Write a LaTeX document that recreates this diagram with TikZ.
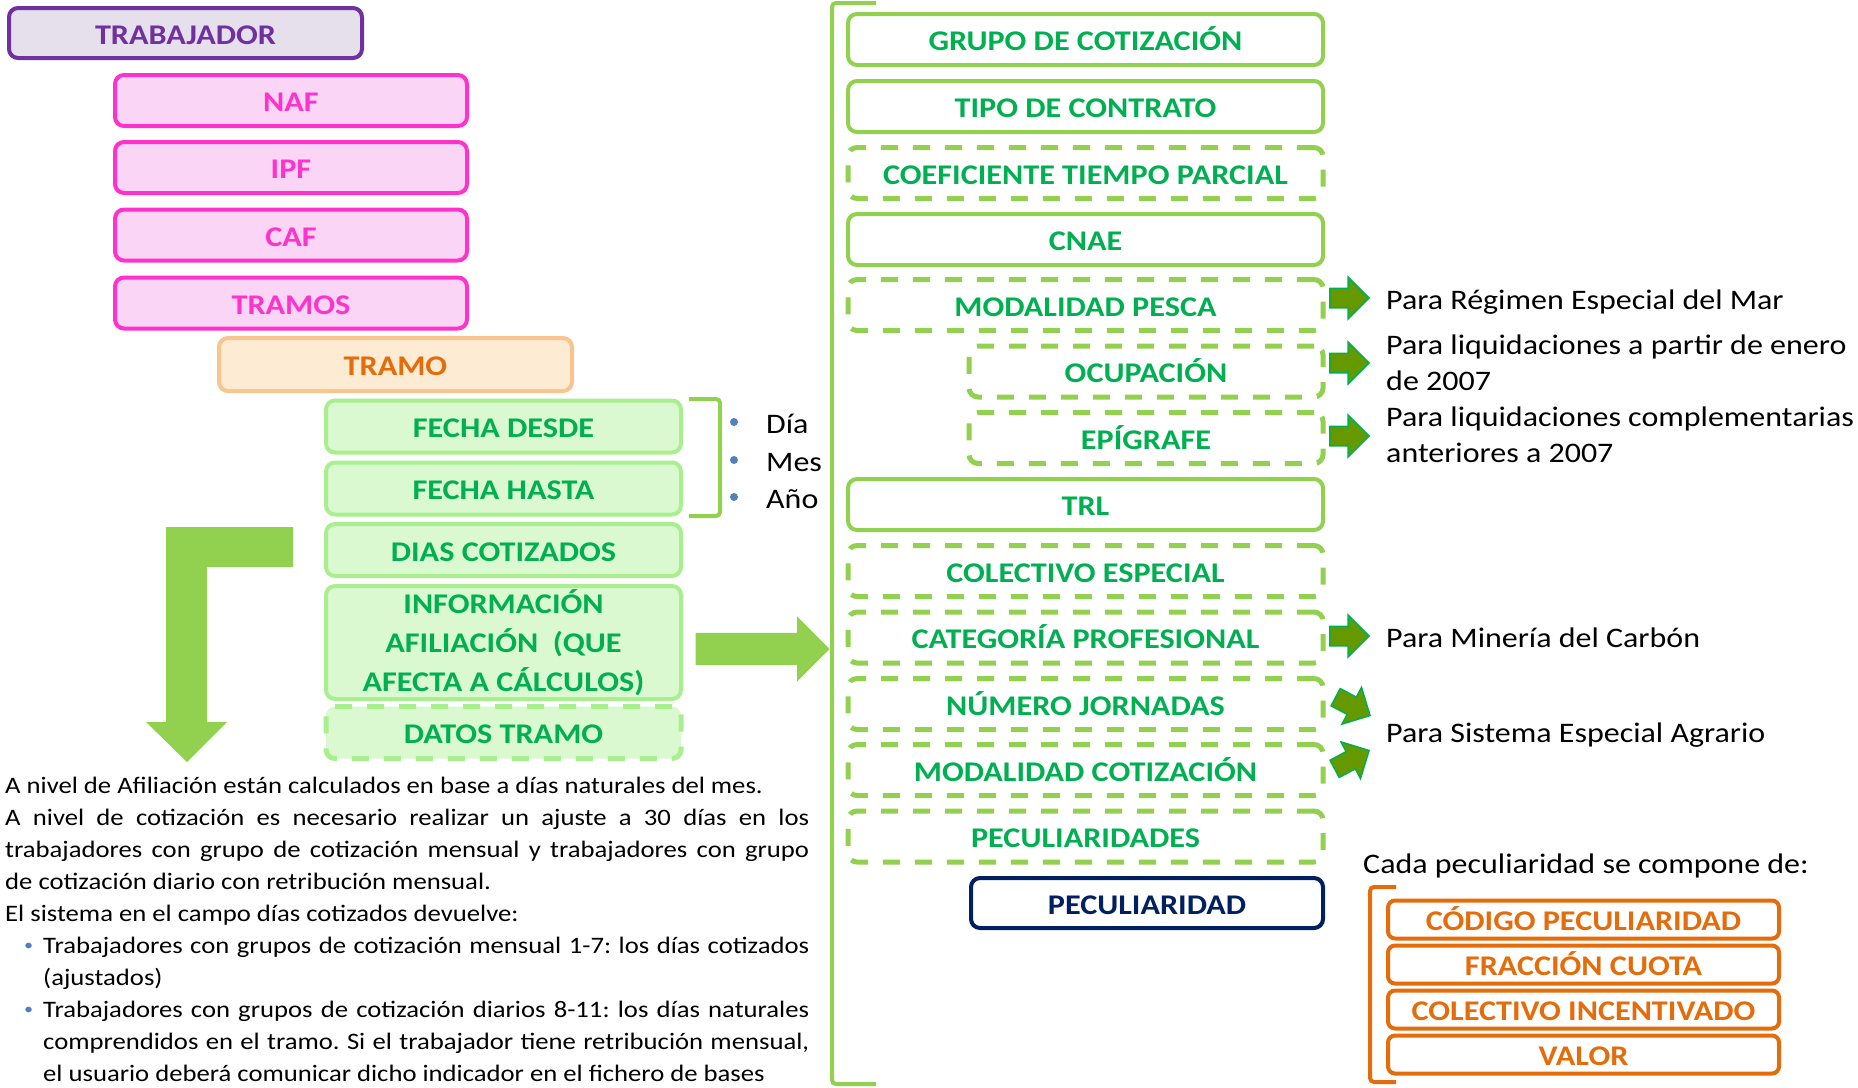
\documentclass[tikz,border=0pt]{standalone}
\usepackage{fontspec}
\setmainfont[FakeStretch=1.13]{Carlito}
\usetikzlibrary{shapes.arrows}
\frenchspacing
\definecolor{purp}{HTML}{7030A0}
\definecolor{purpfill}{HTML}{E6E0EC}
\definecolor{pink}{HTML}{FF33CC}
\definecolor{pinkfill}{HTML}{FBD5F5}
\definecolor{tramobd}{HTML}{FAC48E}
\definecolor{tramofill}{HTML}{FDEBD3}
\definecolor{orng}{HTML}{E46C0A}
\definecolor{lgbd}{HTML}{A9EF8F}
\definecolor{lgfill}{HTML}{DBF9D0}
\definecolor{grn}{HTML}{92D050}
\definecolor{txtgreen}{HTML}{00B050}
\definecolor{navy}{HTML}{002060}
\definecolor{olive}{HTML}{669900}
\definecolor{bulletc}{HTML}{4F81BD}
\tikzset{
  bx/.style={rectangle, rounded corners=9pt, line width=4pt, inner sep=0pt, align=center,
    font=\fontsize{28.5}{39}\selectfont\bfseries, text height=22pt, text depth=0pt},
  purpbox/.style={bx, draw=purp, fill=purpfill, text=purp, minimum width=353, minimum height=50},
  pinkbox/.style={bx, draw=pink, fill=pinkfill, text=pink, minimum width=352, minimum height=51},
  tramobox/.style={bx, draw=tramobd, fill=tramofill, text=orng, minimum width=353, minimum height=53},
  lgbox/.style={bx, draw=lgbd, fill=lgfill, text=txtgreen, minimum width=355, minimum height=52},
  rgbox/.style={bx, draw=grn, fill=white, text=txtgreen, minimum width=475, minimum height=51},
  dsh/.style={dash pattern=on 17pt off 15pt, line width=5pt},
  navybox/.style={bx, draw=navy, fill=white, text=navy, minimum width=352, minimum height=50},
  orbox/.style={bx, rounded corners=7pt, draw=orng, fill=white, text=orng, minimum width=391, minimum height=38},
  smarrow/.style={single arrow, draw=txtgreen, fill=olive, line width=1.5pt, inner sep=0pt, anchor=tip,
    text height=18pt, text depth=0pt, minimum height=39, minimum width=41, single arrow head extend=11pt},
  lbl/.style={anchor=base west, inner sep=0pt, font=\fontsize{28.3}{36}\selectfont},
  par/.style={anchor=base west, inner sep=0pt, font=\fontsize{23.6}{32}\selectfont},
  brk/.style={draw=grn, line width=4pt, rounded corners=4pt},
}
\begin{document}
\begin{tikzpicture}[x=1pt,y=-1pt]
\useasboundingbox (0,0) rectangle (1858,1087);
% left column
\node[purpbox] (trab) at (185.5,33) {TRABAJADOR};
\node[pinkbox] (naf) at (291,100.5) {NAF};
\node[pinkbox] (ipf) at (291,167.5) {IPF};
\node[pinkbox] (caf) at (291,235) {CAF};
\node[pinkbox] (tramos) at (291,303) {TRAMOS};
\node[tramobox] (tramo) at (395.5,364.5) {TRAMO};
\node[lgbox] (fdesde) at (503.5,426.5) {FECHA DESDE};
\node[lgbox] (fhasta) at (503.5,488.5) {FECHA HASTA};
\node[lgbox] (dias) at (503.5,550) {DIAS COTIZADOS};
\node[lgbox, minimum height=113, text height=, text depth=] (info) at (503.5,642.5) {INFORMACIÓN\\AFILIACIÓN~~(QUE\\AFECTA A CÁLCULOS)};
\node[lgbox, dsh, draw=lgbd] (datos) at (503.5,732.5) {DATOS TRAMO};
% small bracket + bullets
\coordinate (bk1) at (689,399);
\coordinate (bk2) at (689,516);
\draw[brk] (bk1) -- (720,399) -- (720,516) -- (bk2);
\fill[bulletc] (734,422) circle (4);
\fill[bulletc] (734,460) circle (4);
\fill[bulletc] (734,497) circle (4);
\node[lbl] (dia) at (766,433) {Día};
\node[lbl] (mes) at (766,471) {Mes};
\node[lbl] (anio) at (766,508) {Año};
% L arrow
\fill[grn] (166,527) -- (293,527) -- (293,567) -- (207,567) -- (207,722) -- (227,722) -- (187,762) -- (146,722) -- (166,722) -- cycle;
% big right arrow
\node[single arrow, fill=grn, inner sep=0pt, anchor=tip, text height=32pt, text depth=0pt, minimum height=134, minimum width=65, single arrow head extend=16.5pt] (bigarr) at (830,649) {};
% paragraph
\node[par] (p1) at (5,793) {A nivel de Afiliación están calculados en base a días naturales del mes.};
\node[par] (p2) at (5,825) {\makebox[804pt][s]{A nivel de cotización es necesario realizar un ajuste a 30 días en los}};
\node[par] (p3) at (5,857) {\makebox[804pt][s]{trabajadores con grupo de cotización mensual y trabajadores con grupo}};
\node[par] (p4) at (5,889) {de cotización diario con retribución mensual.};
\node[par] (p5) at (5,921) {El sistema en el campo días cotizados devuelve:};
\node[par, text=bulletc, font=\fontsize{16}{20}\selectfont] (pb1) at (24,950) {•};
\node[par] (p6) at (43,953) {\makebox[766pt][s]{Trabajadores con grupos de cotización mensual 1-7: los días cotizados}};
\node[par] (p7) at (43,985) {(ajustados)};
\node[par, text=bulletc, font=\fontsize{16}{20}\selectfont] (pb2) at (24,1014) {•};
\node[par] (p8) at (43,1017) {\makebox[766pt][s]{Trabajadores con grupos de cotización diarios 8-11: los días naturales}};
\node[par] (p9) at (43,1049) {\makebox[766pt][s]{comprendidos en el tramo. Si el trabajador tiene retribución mensual,}};
\node[par] (p10) at (43,1081) {el usuario deberá comunicar dicho indicador en el fichero de bases};
% big bracket
\coordinate (bb1) at (876,3);
\coordinate (bb2) at (876,1084);
\draw[brk] (bb1) -- (832,3) -- (832,1084) -- (bb2);
% right column
\node[rgbox] (grupo) at (1085.5,39.5) {GRUPO DE COTIZACIÓN};
\node[rgbox] (tipo) at (1085.5,106.5) {TIPO DE CONTRATO};
\node[rgbox, dsh] (coef) at (1085.5,173) {COEFICIENTE TIEMPO PARCIAL};
\node[rgbox] (cnae) at (1085.5,239.5) {CNAE};
\node[rgbox, dsh] (pesca) at (1085.5,305) {MODALIDAD PESCA};
\node[rgbox, dsh, minimum width=354] (ocup) at (1146,371.5) {OCUPACIÓN};
\node[rgbox, dsh, minimum width=354] (epig) at (1146,438) {EPÍGRAFE};
\node[rgbox] (trl) at (1085.5,504.5) {TRL};
\node[rgbox, dsh] (colesp) at (1085.5,571) {COLECTIVO ESPECIAL};
\node[rgbox, dsh] (categ) at (1085.5,637.5) {CATEGORÍA PROFESIONAL};
\node[rgbox, dsh] (numjor) at (1085.5,704) {NÚMERO JORNADAS};
\node[rgbox, dsh] (modcot) at (1085.5,770) {MODALIDAD COTIZACIÓN};
\node[rgbox, dsh] (peculs) at (1085.5,836.5) {PECULIARIDADES};
\node[navybox] (pecul) at (1147,903) {PECULIARIDAD};
% small arrows
\node[smarrow] (a1) at (1370,298) {};
\node[smarrow] (a2) at (1370,363) {};
\node[smarrow] (a3) at (1370,436) {};
\node[smarrow] (a4) at (1370,636) {};
\node[smarrow, rotate=-28] (a5) at (1371,716) {};
\node[smarrow, rotate=28] (a6) at (1370,750) {};
% right labels
\node[lbl] (t1) at (1386,309) {Para Régimen Especial del Mar};
\node[lbl] (t2a) at (1386,354) {Para liquidaciones a partir de enero};
\node[lbl] (t2b) at (1386,390) {de 2007};
\node[lbl] (t3a) at (1386,426) {Para liquidaciones complementarias};
\node[lbl] (t3b) at (1386,462) {anteriores a 2007};
\node[lbl] (t4) at (1386,647) {Para Minería del Carbón};
\node[lbl] (t5) at (1386,742) {Para Sistema Especial Agrario};
\node[lbl] (t6) at (1363,873) {Cada peculiaridad se compone de:};
% orange bracket + boxes
\coordinate (ob1) at (1396,887);
\coordinate (ob2) at (1396,1082);
\draw[brk, draw=orng] (ob1) -- (1370,887) -- (1370,1082) -- (ob2);
\node[orbox] (cod) at (1583.5,919.5) {CÓDIGO PECULIARIDAD};
\node[orbox] (frac) at (1583.5,964.5) {FRACCIÓN CUOTA};
\node[orbox] (colinc) at (1583.5,1009.5) {COLECTIVO INCENTIVADO};
\node[orbox] (valor) at (1583.5,1054.5) {VALOR};
\end{tikzpicture}
\end{document}
